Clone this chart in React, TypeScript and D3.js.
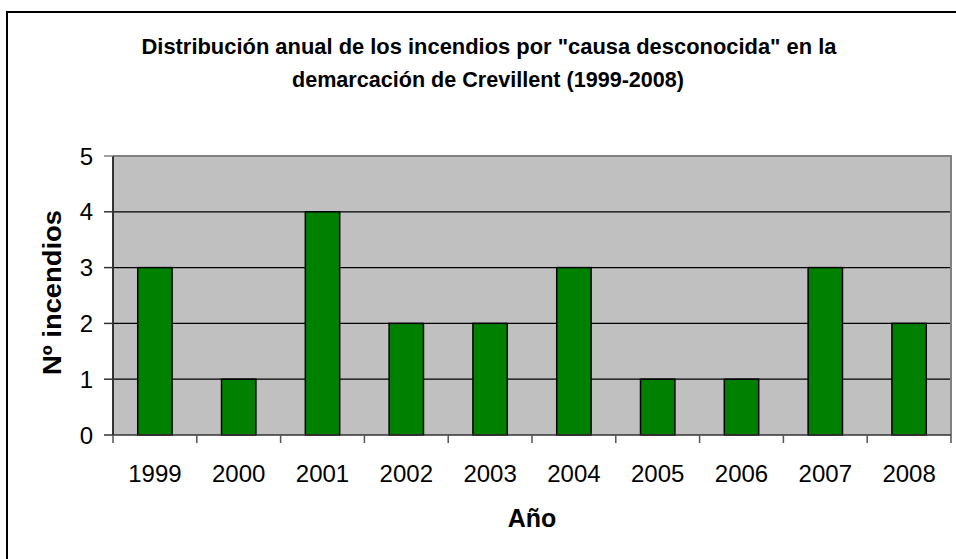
import React, { useEffect, useRef } from 'react';
import * as d3 from 'd3';

const years = ['1999', '2000', '2001', '2002', '2003', '2004', '2005', '2006', '2007', '2008'];
const fires = [3, 1, 4, 2, 2, 3, 1, 1, 3, 2];
const yTicks = [0, 1, 2, 3, 4, 5];
const titleLines = [
  'Distribución anual de los incendios por "causa desconocida" en la',
  'demarcación de Crevillent (1999-2008)',
];

const App = () => {
  const svgRef = useRef<SVGSVGElement | null>(null);

  useEffect(() => {
    if (!svgRef.current) return;
    document.body.style.margin = '0';
    d3.select(svgRef.current).selectAll('*').remove();

    const width = 956;
    const height = 559;
    const font = 'Arial, "Liberation Sans", sans-serif';

    const svg = d3.select(svgRef.current)
      .attr('width', width)
      .attr('height', height);

    svg.append('rect').attr('width', width).attr('height', height).attr('fill', '#fff');

    // outer chart frame (runs off the picture on right and bottom)
    svg.append('rect')
      .attr('x', 7).attr('y', 12)
      .attr('width', 1000).attr('height', 600)
      .attr('fill', 'none')
      .attr('stroke', '#000')
      .attr('stroke-width', 2);

    const plot = { left: 113, right: 951, top: 156, bottom: 435 };

    const x = d3.scaleBand()
      .domain(years)
      .range([plot.left, plot.right])
      .paddingInner(0.59)
      .paddingOuter(0.295);

    const y = d3.scaleLinear()
      .domain([0, 5])
      .range([plot.bottom, plot.top]);

    // plot background
    svg.append('rect')
      .attr('x', plot.left).attr('y', plot.top)
      .attr('width', plot.right - plot.left)
      .attr('height', plot.bottom - plot.top)
      .attr('fill', '#c0c0c0');

    // gridlines
    svg.selectAll('.grid')
      .data(yTicks.filter(d => d > 0 && d < 5))
      .enter()
      .append('line')
      .attr('x1', plot.left).attr('x2', plot.right)
      .attr('y1', d => y(d)).attr('y2', d => y(d))
      .attr('stroke', '#000')
      .attr('stroke-width', 1.2);

    // top/right frame of plot area
    svg.append('path')
      .attr('d', `M${plot.left},${y(5)}H${plot.right}V${plot.bottom}`)
      .attr('fill', 'none')
      .attr('stroke', '#808080')
      .attr('stroke-width', 2);

    // bars
    svg.selectAll('.bar')
      .data(fires)
      .enter()
      .append('rect')
      .attr('x', (d, i) => x(years[i]) as number)
      .attr('y', d => y(d))
      .attr('width', x.bandwidth())
      .attr('height', d => y(0) - y(d))
      .attr('fill', '#008000')
      .attr('stroke', '#000')
      .attr('stroke-width', 1.5);

    // y axis
    svg.append('line')
      .attr('x1', plot.left).attr('x2', plot.left)
      .attr('y1', plot.top).attr('y2', plot.bottom)
      .attr('stroke', '#333').attr('stroke-width', 2);
    svg.selectAll('.ytick')
      .data(yTicks)
      .enter()
      .append('line')
      .attr('x1', plot.left - 9).attr('x2', plot.left)
      .attr('y1', d => y(d)).attr('y2', d => y(d))
      .attr('stroke', d => (d === 5 ? '#808080' : '#333'))
      .attr('stroke-width', 1.5);
    svg.selectAll('.ylabel')
      .data(yTicks)
      .enter()
      .append('text')
      .attr('x', 93)
      .attr('y', d => y(d) + 8.5)
      .attr('text-anchor', 'end')
      .attr('font-family', font)
      .attr('font-size', 24)
      .attr('fill', '#000')
      .text(d => d);

    // x axis
    svg.append('line')
      .attr('x1', plot.left).attr('x2', plot.right)
      .attr('y1', plot.bottom).attr('y2', plot.bottom)
      .attr('stroke', '#333').attr('stroke-width', 1.5);
    const step = x.step();
    svg.selectAll('.xtick')
      .data(d3.range(years.length + 1))
      .enter()
      .append('line')
      .attr('x1', i => plot.left + i * step).attr('x2', i => plot.left + i * step)
      .attr('y1', plot.bottom).attr('y2', plot.bottom + 8)
      .attr('stroke', '#555')
      .attr('stroke-width', 1.5);
    svg.selectAll('.xlabel')
      .data(years)
      .enter()
      .append('text')
      .attr('x', d => (x(d) as number) + x.bandwidth() / 2)
      .attr('y', 481.5)
      .attr('text-anchor', 'middle')
      .attr('font-family', font)
      .attr('font-size', 24)
      .attr('fill', '#000')
      .text(d => d);

    // title
    svg.append('text')
      .attr('x', 489).attr('y', 54)
      .attr('text-anchor', 'middle')
      .attr('font-family', font)
      .attr('font-weight', 'bold')
      .attr('font-size', 22)
      .attr('textLength', 695)
      .attr('lengthAdjust', 'spacingAndGlyphs')
      .text(titleLines[0]);
    svg.append('text')
      .attr('x', 488).attr('y', 86.5)
      .attr('text-anchor', 'middle')
      .attr('font-family', font)
      .attr('font-weight', 'bold')
      .attr('font-size', 22)
      .attr('textLength', 392)
      .attr('lengthAdjust', 'spacingAndGlyphs')
      .text(titleLines[1]);

    // axis titles
    svg.append('text')
      .attr('x', (plot.left + plot.right) / 2).attr('y', 527)
      .attr('text-anchor', 'middle')
      .attr('font-family', font)
      .attr('font-weight', 'bold')
      .attr('font-size', 25)
      .text('Año');
    svg.append('text')
      .attr('transform', `translate(61, ${(plot.top + plot.bottom) / 2 - 3}) rotate(-90)`)
      .attr('text-anchor', 'middle')
      .attr('font-family', font)
      .attr('font-weight', 'bold')
      .attr('font-size', 25)
      .attr('textLength', 165)
      .attr('lengthAdjust', 'spacingAndGlyphs')
      .text('Nº incendios');
  }, []);

  return (
    <div style={{ position: 'absolute', left: 0, top: 0 }}>
      <svg ref={svgRef} style={{ display: 'block' }}></svg>
    </div>
  );
};

export default App;
